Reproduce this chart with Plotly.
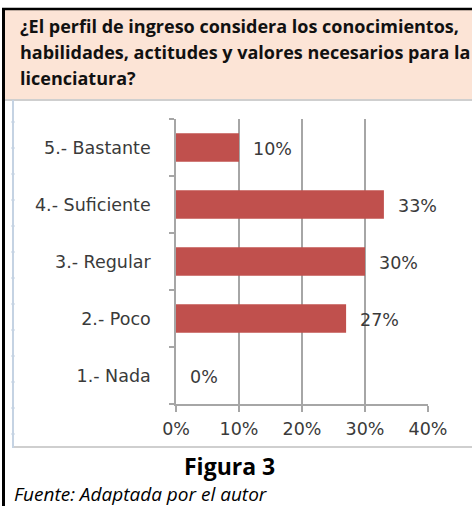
import plotly.graph_objects as go

# Survey answers (bottom to top on the chart)
categories = ["1.- Nada", "2.- Poco", "3.- Regular", "4.- Suficiente", "5.- Bastante"]
percentages = [0, 27, 30, 33, 10]
x_ticks = [0, 10, 20, 30, 40]
x_tick_labels = ["0%", "10%", "20%", "30%", "40%"]

title_lines = [
    "¿El perfil de ingreso considera los conocimientos,",
    "habilidades, actitudes y valores necesarios para la",
    "licenciatura?",
]
figure_caption = "Figura 3"
source_note = "Fuente: Adaptada por el autor"

W, H = 472, 506
BAR_RED = "#C0504D"
LABEL_GREY = "#3A3A3A"
AXIS_GREY = "#A6A6A6"
CHART_FONT = "DejaVu Sans"
TEXT_FONT = "Open Sans"
CHART_SIZE = 17.5


def px_x(p):
    return p / W


def px_y(p):
    return 1 - p / H


fig = go.Figure()
fig.add_trace(
    go.Bar(
        y=categories,
        x=percentages,
        orientation="h",
        width=0.5,
        marker=dict(color=BAR_RED, line=dict(width=0)),
        hoverinfo="skip",
    )
)

# Value labels just past the end of each bar
annotations = []
for cat, val in zip(categories, percentages):
    annotations.append(
        dict(
            x=val, y=cat, xref="x", yref="y",
            text=f"{val}%", showarrow=False,
            xanchor="left", yanchor="middle", xshift=12, yshift=-1,
            font=dict(family=CHART_FONT, size=CHART_SIZE, color=LABEL_GREY),
        )
    )

# Header question
for i, line in enumerate(title_lines):
    annotations.append(
        dict(
            x=px_x(18), y=px_y(26 + i * 26), xref="paper", yref="paper",
            text=f"<b>{line}</b>", showarrow=False,
            xanchor="left", yanchor="middle",
            font=dict(family=TEXT_FONT, size=18, color="#111111"),
        )
    )

annotations.append(
    dict(
        x=px_x(229), y=px_y(466), xref="paper", yref="paper",
        text=f"<b>{figure_caption}</b>", showarrow=False,
        xanchor="center", yanchor="middle",
        font=dict(family=TEXT_FONT, size=23, color="#000000"),
    )
)
annotations.append(
    dict(
        x=px_x(12), y=px_y(494), xref="paper", yref="paper",
        text=f"<i>{source_note}</i>", showarrow=False,
        xanchor="left", yanchor="middle",
        font=dict(family=TEXT_FONT, size=19, color="#000000"),
    )
)

shapes = [
    # peach header band
    dict(type="rect", xref="paper", yref="paper", layer="below",
         x0=px_x(5), x1=1, y0=px_y(99), y1=px_y(10),
         fillcolor="#FCE4D6", line=dict(width=0)),
    # separator below header
    dict(type="line", xref="paper", yref="paper", layer="below",
         x0=px_x(5), x1=1, y0=px_y(100), y1=px_y(100),
         line=dict(color="#BFBFBF", width=1.5)),
    # chart box bottom edge
    dict(type="line", xref="paper", yref="paper", layer="below",
         x0=px_x(12), x1=1, y0=px_y(447), y1=px_y(447),
         line=dict(color="#BFBFBF", width=1.5)),
    # chart box left edge
    dict(type="line", xref="paper", yref="paper", layer="below",
         x0=px_x(13), x1=px_x(13), y0=px_y(100), y1=px_y(448),
         line=dict(color="#C5D3E3", width=2)),
    # black frame: top and left
    dict(type="line", xref="paper", yref="paper",
         x0=px_x(2), x1=1, y0=px_y(9), y1=px_y(9),
         line=dict(color="#000000", width=2.5)),
    dict(type="line", xref="paper", yref="paper",
         x0=px_x(3.5), x1=px_x(3.5), y0=px_y(8), y1=0,
         line=dict(color="#000000", width=3)),
]
# small ruler marks along the chart box left edge
for yy in range(122, 448, 26):
    shapes.append(
        dict(type="line", xref="paper", yref="paper", layer="below",
             x0=px_x(11), x1=px_x(15), y0=px_y(yy), y1=px_y(yy),
             line=dict(color="#C5D3E3", width=1))
    )

fig.update_layout(
    width=W, height=H,
    margin=dict(l=0, r=0, t=0, b=0, autoexpand=False),
    paper_bgcolor="white",
    plot_bgcolor="rgba(0,0,0,0)",
    showlegend=False,
    annotations=annotations,
    shapes=shapes,
    xaxis=dict(
        domain=[px_x(176), px_x(428)],
        range=[0, 40],
        automargin=False,
        tickvals=x_ticks,
        ticktext=x_tick_labels,
        showgrid=True, gridcolor=AXIS_GREY, gridwidth=1.5,
        zeroline=False,
        showline=True, linecolor=AXIS_GREY, linewidth=1.5,
        ticks="outside", ticklen=6, tickcolor=AXIS_GREY, tickwidth=1.5,
        ticklabelstandoff=2,
        tickfont=dict(family=CHART_FONT, size=CHART_SIZE, color=LABEL_GREY),
        fixedrange=True,
    ),
    yaxis=dict(
        domain=[px_y(404), px_y(119)],
        categoryorder="array", categoryarray=categories,
        automargin=False,
        showgrid=False, zeroline=False,
        showline=True, linecolor=AXIS_GREY, linewidth=1.5,
        ticks="outside", ticklen=5, tickcolor=AXIS_GREY, tickwidth=1.5,
        tickson="boundaries",
        ticklabelstandoff=20,
        tickfont=dict(family=CHART_FONT, size=CHART_SIZE, color=LABEL_GREY),
        fixedrange=True,
    ),
)

fig.write_html("out.html")
